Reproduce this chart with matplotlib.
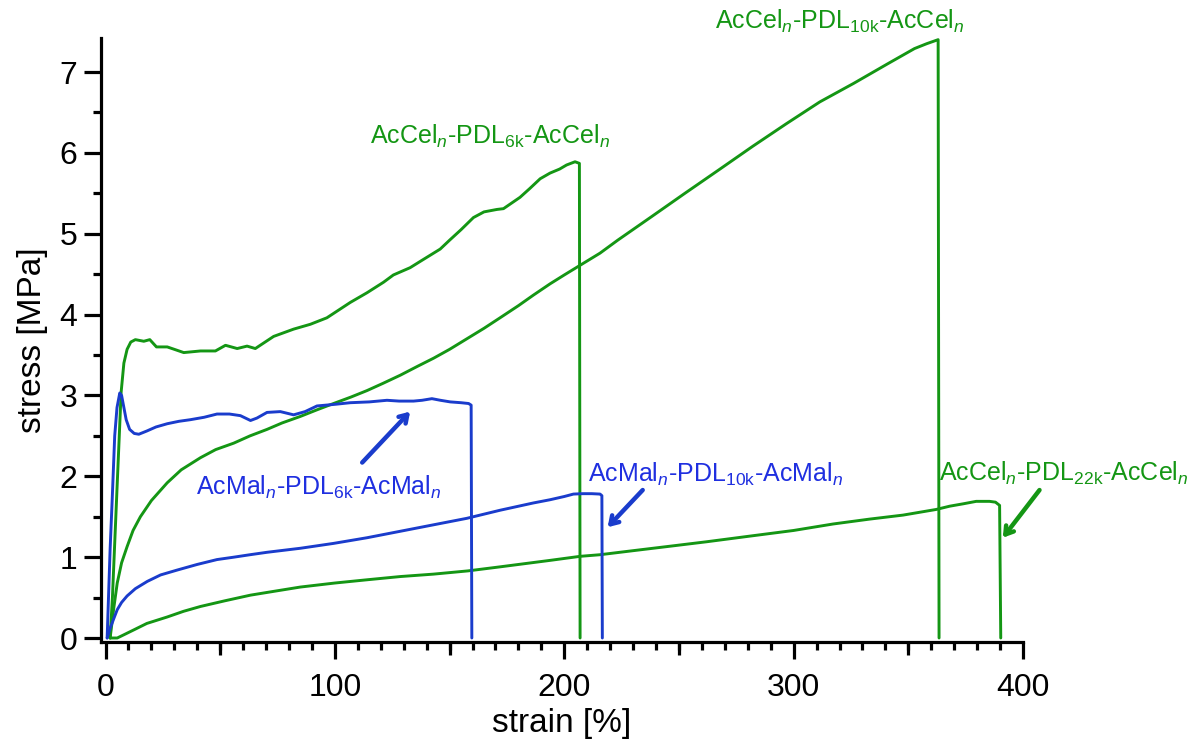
import matplotlib
matplotlib.use("Agg")
import matplotlib.pyplot as plt
from matplotlib.ticker import MultipleLocator, FixedLocator

plt.rcParams["font.family"] = ["Liberation Sans", "DejaVu Sans"]
plt.rcParams["mathtext.fontset"] = "custom"
plt.rcParams["mathtext.rm"] = "Liberation Sans"
plt.rcParams["mathtext.it"] = "Liberation Sans:italic"
plt.rcParams["mathtext.bf"] = "Liberation Sans:bold"

GREEN = "#149614"
BLUE = "#1a3ccc"
BLUE_TEXT = "#1f2fe0"

# AcMal_n-PDL6k-AcMal_n
mal6_strain = [0.7, 2.0, 2.9, 4.0, 5.0, 6.2, 7.0, 8.0, 9.0, 10.5, 12.5, 14.5, 18, 22, 26.9,
               32, 37, 43, 48.6, 54, 58.8, 63.2, 66, 70.4, 76.2, 82, 87, 92.2, 100, 106.7,
               115, 122.7, 128, 134.3, 138, 142.3, 146, 150.3, 155, 158.3, 159.4, 159.7]
mal6_stress = [0, 1.1, 1.71, 2.5, 2.85, 3.03, 3.0, 2.85, 2.7, 2.58, 2.53, 2.52, 2.56, 2.61, 2.65,
               2.68, 2.70, 2.73, 2.77, 2.77, 2.75, 2.69, 2.72, 2.79, 2.80, 2.76, 2.80, 2.87, 2.89, 2.91,
               2.92, 2.94, 2.93, 2.93, 2.94, 2.96, 2.94, 2.92, 2.91, 2.90, 2.88, 0]

# AcMal_n-PDL10k-AcMal_n
mal10_strain = [0.7, 2.0, 3.6, 5.1, 7.0, 9.4, 13, 18.2, 24, 31.2, 40, 48.6, 56, 63, 70.4, 85,
                99.4, 114, 128.5, 143, 157.5, 172, 186.5, 193.8, 200, 204, 208, 212, 215.6,
                216.4, 216.6]
mal10_stress = [0, 0.12, 0.24, 0.35, 0.44, 0.52, 0.61, 0.70, 0.78, 0.84, 0.91, 0.97, 1.0, 1.03,
                1.06, 1.11, 1.17, 1.24, 1.32, 1.40, 1.48, 1.58, 1.67, 1.71, 1.75, 1.78, 1.785,
                1.785, 1.78, 1.76, 0]

# AcCel_n-PDL6k-AcCel_n
cel6_strain = [2.0, 3.0, 4.8, 6.8, 8.0, 9.4, 11, 13, 16.7, 19.3, 22.2, 26.9, 30, 34.1, 41.4,
               47.9, 52.3, 57.4, 61.7, 65.3, 73.3, 82, 89.3, 96.5, 106.7, 114, 121.2, 125.5,
               132.8, 137.9, 145.9, 150, 155, 160.4, 165, 170.6, 173.5, 180.7, 185, 189.5,
               193.8, 198, 201, 204.7, 206.6, 206.9]
cel6_stress = [0, 0.5, 1.71, 3.04, 3.4, 3.57, 3.66, 3.69, 3.67, 3.69, 3.60, 3.60, 3.57, 3.53, 3.55,
               3.55, 3.62, 3.58, 3.61, 3.58, 3.73, 3.82, 3.88, 3.96, 4.15, 4.27, 4.40, 4.49,
               4.58, 4.67, 4.81, 4.92, 5.05, 5.20, 5.27, 5.30, 5.31, 5.45, 5.56, 5.68,
               5.75, 5.80, 5.85, 5.89, 5.87, 0]

# AcCel_n-PDL10k-AcCel_n
cel10_strain = [2.0, 3.5, 5.1, 7.0, 9.4, 12, 15.2, 20, 26.9, 33, 41.4, 48, 55.9, 63, 70.4, 77,
                84.9, 92, 99.4, 107, 114, 121, 128.5, 136, 143, 150, 157.5, 165, 172, 180,
                186.5, 193.8, 200, 207.5, 215.6, 223.3, 238, 252.6, 267.4, 282.1, 296.8,
                311.4, 326.2, 340.9, 352.7, 358, 363, 363.4]
cel10_stress = [0, 0.35, 0.68, 0.93, 1.13, 1.33, 1.50, 1.70, 1.92, 2.08, 2.23, 2.33, 2.41, 2.50,
                2.58, 2.66, 2.74, 2.82, 2.90, 2.98, 3.06, 3.15, 3.25, 3.36, 3.46, 3.57, 3.70,
                3.83, 3.96, 4.11, 4.24, 4.38, 4.49, 4.62, 4.76, 4.92, 5.21, 5.50, 5.79, 6.08,
                6.36, 6.63, 6.86, 7.10, 7.29, 7.35, 7.40, 0]

# AcCel_n-PDL22k-AcCel_n
cel22_strain = [2.0, 3.0, 5.1, 8.0, 12.3, 18, 26.9, 34, 41.4, 52, 63.2, 74, 84.9, 100, 114,
                128.5, 143, 158, 172, 193.8, 206.9, 215.6, 230, 244.6, 262, 280.9, 300, 317.2,
                333, 347.7, 362.2, 368, 374, 379.6, 385.4, 388, 389.8, 390.3]
cel22_stress = [0, 0, 0.0, 0.04, 0.10, 0.18, 0.26, 0.33, 0.39, 0.46, 0.53, 0.58, 0.63, 0.68, 0.72,
                0.76, 0.79, 0.83, 0.88, 0.96, 1.01, 1.03, 1.08, 1.13, 1.19, 1.26, 1.33, 1.41,
                1.47, 1.52, 1.59, 1.63, 1.66, 1.69, 1.69, 1.68, 1.64, 0]

fig = plt.figure(figsize=(12, 7.49), dpi=100)
ax = fig.add_axes([0.0842, 0.1428, 0.7683, 0.8064])

line_kw = dict(lw=2.1, solid_joinstyle="round", solid_capstyle="round")
ax.plot(cel22_strain, cel22_stress, color=GREEN, **line_kw)
ax.plot(cel10_strain, cel10_stress, color=GREEN, **line_kw)
ax.plot(cel6_strain, cel6_stress, color=GREEN, **line_kw)
ax.plot(mal10_strain, mal10_stress, color=BLUE, **line_kw)
ax.plot(mal6_strain, mal6_stress, color=BLUE, **line_kw)

ax.set_xlim(-1.96, 400)
ax.set_ylim(-0.05, 7.42)

for side in ("top", "right"):
    ax.spines[side].set_visible(False)
for side in ("left", "bottom"):
    ax.spines[side].set_linewidth(2.3)

ax.xaxis.set_major_locator(MultipleLocator(100))
ax.xaxis.set_minor_locator(MultipleLocator(10))
ax.yaxis.set_major_locator(MultipleLocator(1))
ax.yaxis.set_minor_locator(MultipleLocator(0.5))
ax.tick_params(which="major", direction="out", length=12, width=2.3, labelsize=23)
ax.tick_params(which="minor", direction="out", length=5.8, width=2.3)
ax.tick_params(axis="x", which="major", pad=10)
ax.tick_params(axis="y", which="major", pad=5)

sec = ax.secondary_xaxis("bottom")
sec.xaxis.set_major_locator(FixedLocator([50, 150, 250, 350]))
sec.tick_params(direction="out", length=9, width=2.3, labelbottom=False)
sec.spines["bottom"].set_visible(False)

ax.set_xlabel("strain [%]", fontsize=24, labelpad=4)
ax.set_ylabel("stress [MPa]", fontsize=24, labelpad=8)

lab_fs = 18
ax.text(167.7, 6.2, r"AcCel$_{n}$-PDL$_{\mathrm{6k}}$-AcCel$_{n}$", color=GREEN,
        fontsize=lab_fs, ha="center", va="center")
ax.text(320, 7.63, r"AcCel$_{n}$-PDL$_{\mathrm{10k}}$-AcCel$_{n}$", color=GREEN,
        fontsize=lab_fs, ha="center", va="center", clip_on=False)

arrow_kw = dict(arrowstyle="->,head_length=0.55,head_width=0.35", lw=3.2,
                shrinkA=0, shrinkB=0)
ax.annotate("", xy=(132.8, 2.80), xytext=(111.9, 2.17),
            arrowprops=dict(color=BLUE, **arrow_kw))
ax.text(92.8, 1.86, r"AcMal$_{n}$-PDL$_{\mathrm{6k}}$-AcMal$_{n}$", color=BLUE_TEXT,
        fontsize=lab_fs, ha="center", va="center")

ax.annotate("", xy=(218.9, 1.37), xytext=(234.2, 1.83),
            arrowprops=dict(color=BLUE, **arrow_kw))
ax.text(266, 2.02, r"AcMal$_{n}$-PDL$_{\mathrm{10k}}$-AcMal$_{n}$", color=BLUE_TEXT,
        fontsize=lab_fs, ha="center", va="center")

ax.annotate("", xy=(391.2, 1.24), xytext=(407.2, 1.83),
            arrowprops=dict(color=GREEN, clip_on=False, **arrow_kw), annotation_clip=False)
ax.text(417.7, 2.04, r"AcCel$_{n}$-PDL$_{\mathrm{22k}}$-AcCel$_{n}$", color=GREEN,
        fontsize=lab_fs, ha="center", va="center", clip_on=False)

fig.savefig("out.png", dpi=100)
